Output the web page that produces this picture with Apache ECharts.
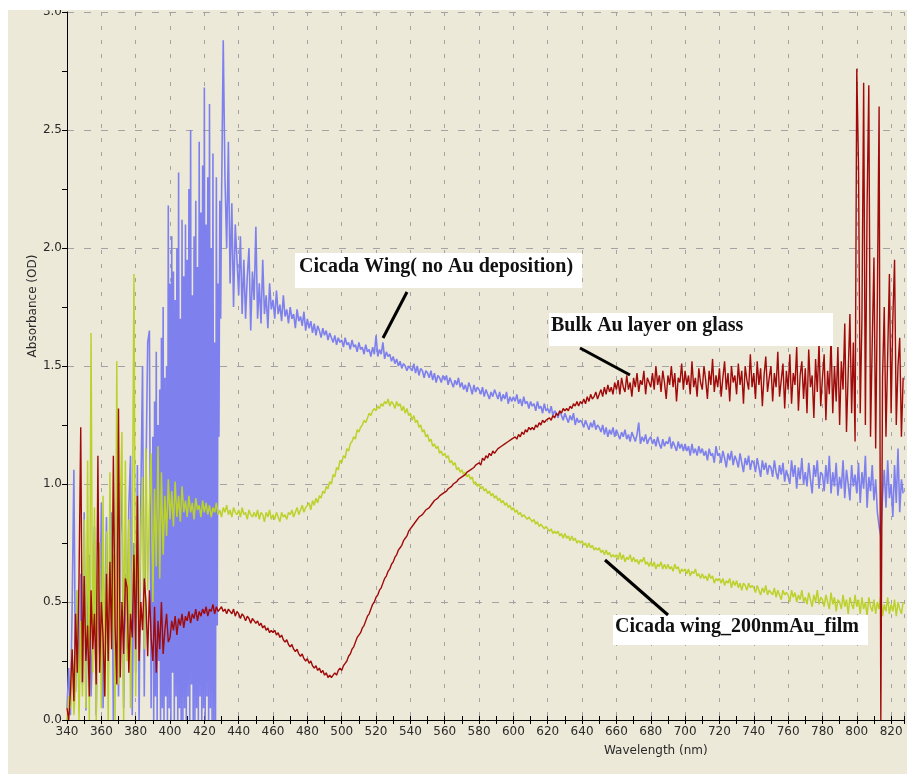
<!DOCTYPE html>
<html>
<head>
<meta charset="utf-8">
<title>Absorbance spectra</title>
<script src="https://cdn.jsdelivr.net/npm/echarts@6/dist/echarts.min.js"></script>
<style>
  html, body { margin: 0; padding: 0; background: #ffffff; }
  #chart { width: 907px; height: 774px; }
</style>
</head>
<body>
<div id="chart"></div>
<script>
// Readings are stored as runs of evenly spaced wavelengths (nm).
// Each run: start wavelength, step, and the absorbance values (OD).

// Cicada wing without gold deposition
const cicadaWingStart = 340, cicadaWingStep = 1;
const cicadaWingUV = [
  0.05, 0.22, 0.02, 0.48, 1.06, 0.12, 0.55, 0.08, 0.62, 0.15,
  0.88, 0.04, 0.45, 0.70, 0.10, 0.35, 0.82, 0.02, 0.60, 0.28,
  0.92, 0.05, 0.40, 0.86, 0.18, 0.70, 0.88, 0.00, 0.55, 0.95,
  0.10, 0.78, 1.00, 0.05, 0.62, 0.30, 0.90, 1.12, 0.02, 0.75,
  0.20, 1.08, 0.00, 0.95, 1.50, 0.10, 1.05, 1.60, 1.65, 0.05
];
// 390 – 429.5 nm, half-nanometre readings
const cicadaWingDenseStart = 390, cicadaWingDenseStep = 0.5;
const cicadaWingDense = [
  1.20, 0.00, 1.35, 0.10, 1.56, 0.00, 1.25, 0.25,
  1.40, 0.00, 1.62, 0.05, 1.75, 0.00, 1.45, 0.10,
  1.50, 0.00, 2.18, 0.05, 1.85, 0.00, 2.05, 0.20,
  1.90, 0.00, 1.78, 0.10, 2.00, 0.00, 2.32, 0.05,
  1.70, 0.00, 2.12, 0.00, 1.88, 0.05, 2.10, 0.00,
  1.95, 0.10, 2.25, 0.00, 2.50, 0.15, 1.80, 0.00,
  2.05, 0.00, 2.20, 0.05, 1.92, 0.00, 2.45, 0.10,
  2.15, 0.00, 2.35, 0.05, 2.68, 0.00, 2.10, 0.10,
  2.30, 0.00, 2.61, 0.05, 2.00, 0.00, 2.40, 0.00,
  1.60, 0.00, 2.30, 0.40, 1.85, 1.20, 2.20, 1.70
];
// 430 – 827 nm
const cicadaWingVisStart = 430, cicadaWingVisStep = 1;
const cicadaWingVis = [
  2.20, 2.88, 2.30, 2.00, 2.45, 1.85, 2.19, 1.75, 2.10, 1.95,
  1.80, 2.05, 1.72, 1.95, 1.70, 1.88, 2.00, 1.65, 1.90, 1.78,
  2.09, 1.70, 1.85, 1.68, 1.95, 1.72, 1.80, 1.66, 1.85, 1.74,
  1.78, 1.70, 1.82, 1.72, 1.76, 1.69, 1.80, 1.71, 1.74, 1.68,
  1.75, 1.70, 1.72, 1.66, 1.74, 1.69, 1.71, 1.67, 1.73, 1.65,
  1.70, 1.66, 1.69, 1.64, 1.68, 1.63, 1.67, 1.65, 1.62, 1.66,
  1.63, 1.65, 1.61, 1.64, 1.62, 1.60, 1.63, 1.59, 1.62, 1.60,
  1.61, 1.58, 1.62, 1.59, 1.60, 1.57, 1.61, 1.58, 1.59, 1.56,
  1.60, 1.57, 1.58, 1.55, 1.59, 1.56, 1.57, 1.54, 1.58, 1.55,
  1.63, 1.54, 1.57, 1.55, 1.60, 1.53, 1.56, 1.54, 1.55, 1.52,
  1.54, 1.51, 1.53, 1.50, 1.52, 1.49, 1.51, 1.50, 1.48, 1.50,
  1.50, 1.48, 1.51, 1.47, 1.50, 1.46, 1.49, 1.48, 1.45, 1.48,
  1.47, 1.45, 1.48, 1.44, 1.47, 1.43, 1.46, 1.45, 1.43, 1.46,
  1.44, 1.46, 1.42, 1.45, 1.43, 1.41, 1.44, 1.42, 1.45, 1.41,
  1.43, 1.40, 1.42, 1.39, 1.43, 1.41, 1.38, 1.42, 1.39, 1.41,
  1.40, 1.38, 1.41, 1.37, 1.40, 1.38, 1.36, 1.39, 1.37, 1.40,
  1.38, 1.36, 1.39, 1.35, 1.38, 1.36, 1.39, 1.34, 1.37, 1.35,
  1.37, 1.35, 1.38, 1.34, 1.36, 1.33, 1.37, 1.34, 1.35, 1.32,
  1.35, 1.33, 1.34, 1.31, 1.35, 1.32, 1.33, 1.30, 1.34, 1.31,
  1.32, 1.30, 1.33, 1.29, 1.31, 1.30, 1.28, 1.31, 1.29, 1.27,
  1.30, 1.28, 1.26, 1.29, 1.27, 1.30, 1.25, 1.28, 1.26, 1.27,
  1.26, 1.24, 1.27, 1.25, 1.23, 1.26, 1.24, 1.27, 1.23, 1.25,
  1.24, 1.22, 1.25, 1.21, 1.24, 1.20, 1.23, 1.21, 1.24, 1.20,
  1.23, 1.21, 1.19, 1.22, 1.20, 1.23, 1.19, 1.21, 1.18, 1.22,
  1.20, 1.18, 1.21, 1.26, 1.17, 1.20, 1.18, 1.21, 1.17, 1.19,
  1.20, 1.17, 1.19, 1.16, 1.20, 1.17, 1.15, 1.19, 1.16, 1.18,
  1.17, 1.20, 1.15, 1.18, 1.16, 1.14, 1.18, 1.15, 1.17, 1.14,
  1.17, 1.14, 1.16, 1.12, 1.17, 1.13, 1.15, 1.12, 1.16, 1.13,
  1.15, 1.12, 1.14, 1.10, 1.15, 1.12, 1.13, 1.09, 1.16, 1.12,
  1.13, 1.09, 1.14, 1.11, 1.07, 1.13, 1.10, 1.14, 1.08, 1.12,
  1.10, 1.07, 1.13, 1.09, 1.05, 1.11, 1.08, 1.12, 1.06, 1.10,
  1.09, 1.05, 1.11, 1.07, 1.03, 1.10, 1.06, 1.09, 1.04, 1.08,
  1.07, 1.03, 1.10, 1.05, 1.02, 1.08, 1.04, 1.09, 1.01, 1.06,
  1.06, 1.00, 1.10, 1.03, 1.08, 0.98, 1.07, 1.02, 1.11, 1.00,
  1.05, 0.99, 1.09, 1.02, 0.96, 1.08, 1.03, 1.10, 0.98, 1.05,
  1.04, 0.97, 1.08, 1.00, 1.12, 0.96, 1.05, 0.99, 1.09, 0.95,
  1.03, 0.98, 1.10, 0.94, 1.06, 1.00, 0.93, 1.08, 0.99, 1.04,
  0.96, 1.09, 0.92, 1.05, 0.98, 1.12, 0.90, 1.03, 0.97, 1.08,
  0.93, 1.02, 0.88, 0.82, 0.78, 0.95, 1.06, 0.90, 1.10, 0.94,
  1.00, 0.86, 1.08, 0.92, 1.15, 0.88, 1.02, 0.96
];

// Cicada wing with a 200 nm gold film, 340 – 827 nm
const cicadaWingAuStart = 340, cicadaWingAuStep = 1;
const cicadaWingAuFilm = [
  0.00, 0.10, 0.05, 0.30, 0.02, 0.15, 0.55, 0.00, 0.42, 0.10,
  0.85, 0.05, 1.10, 0.00, 1.64, 0.20, 0.90, 0.00, 0.60, 0.75,
  0.05, 0.95, 0.10, 0.80, 0.00, 1.05, 0.30, 0.70, 0.00, 1.52,
  0.15, 0.90, 1.22, 0.00, 1.10, 0.25, 0.85, 0.05, 0.70, 1.89,
  0.10, 0.95, 0.40, 0.80, 1.03, 0.30, 1.15, 0.55, 0.90, 1.13,
  0.50, 0.98, 0.65, 1.16, 0.60, 1.05, 0.70, 0.95, 0.78, 1.02,
  0.85, 0.97, 0.82, 1.01, 0.86, 0.95, 0.84, 0.99, 0.88, 0.93,
  0.86, 0.95, 0.88, 0.92, 0.85, 0.94, 0.89, 0.91, 0.86, 0.93,
  0.88, 0.92, 0.87, 0.91, 0.86, 0.90, 0.88, 0.92, 0.87, 0.89,
  0.86, 0.90, 0.88, 0.91, 0.87, 0.89, 0.86, 0.90, 0.88, 0.87,
  0.89, 0.86, 0.90, 0.87, 0.88, 0.85, 0.89, 0.87, 0.86, 0.88,
  0.86, 0.89, 0.85, 0.88, 0.87, 0.84, 0.88, 0.86, 0.89, 0.85,
  0.87, 0.85, 0.88, 0.86, 0.84, 0.88, 0.86, 0.87, 0.85, 0.88,
  0.87, 0.89, 0.86, 0.88, 0.90, 0.87, 0.89, 0.91, 0.88, 0.90,
  0.90, 0.92, 0.89, 0.93, 0.91, 0.94, 0.92, 0.95, 0.94, 0.97,
  0.96, 0.99, 0.98, 1.01, 1.00, 1.04, 1.03, 1.07, 1.06, 1.10,
  1.09, 1.12, 1.11, 1.15, 1.14, 1.17, 1.18, 1.20, 1.19, 1.23,
  1.22, 1.24, 1.25, 1.27, 1.26, 1.28, 1.30, 1.29, 1.31, 1.32,
  1.31, 1.33, 1.32, 1.34, 1.33, 1.35, 1.34, 1.36, 1.33, 1.35,
  1.34, 1.32, 1.35, 1.33, 1.34, 1.31, 1.33, 1.30, 1.32, 1.29,
  1.30, 1.27, 1.29, 1.26, 1.27, 1.24, 1.25, 1.22, 1.23, 1.20,
  1.21, 1.18, 1.19, 1.16, 1.17, 1.15, 1.16, 1.13, 1.14, 1.12,
  1.13, 1.11, 1.12, 1.09, 1.10, 1.08, 1.09, 1.06, 1.07, 1.05,
  1.06, 1.04, 1.05, 1.03, 1.04, 1.02, 1.03, 1.00, 1.01, 0.99,
  1.00, 0.98, 0.99, 0.97, 0.98, 0.96, 0.97, 0.95, 0.96, 0.94,
  0.95, 0.93, 0.94, 0.92, 0.93, 0.91, 0.92, 0.90, 0.91, 0.89,
  0.90, 0.88, 0.89, 0.87, 0.88, 0.86, 0.87, 0.86, 0.85, 0.86,
  0.85, 0.84, 0.85, 0.83, 0.84, 0.82, 0.83, 0.82, 0.81, 0.82,
  0.81, 0.80, 0.81, 0.79, 0.80, 0.79, 0.80, 0.78, 0.79, 0.77,
  0.79, 0.77, 0.78, 0.76, 0.78, 0.76, 0.77, 0.75, 0.76, 0.75,
  0.76, 0.74, 0.75, 0.73, 0.75, 0.73, 0.74, 0.72, 0.73, 0.72,
  0.73, 0.71, 0.72, 0.70, 0.72, 0.70, 0.71, 0.69, 0.70, 0.69,
  0.70, 0.68, 0.71, 0.68, 0.70, 0.67, 0.69, 0.68, 0.70, 0.67,
  0.69, 0.67, 0.68, 0.66, 0.68, 0.67, 0.69, 0.66, 0.67, 0.65,
  0.67, 0.65, 0.67, 0.64, 0.66, 0.65, 0.67, 0.64, 0.66, 0.64,
  0.66, 0.64, 0.65, 0.63, 0.66, 0.64, 0.65, 0.62, 0.64, 0.63,
  0.64, 0.62, 0.64, 0.61, 0.63, 0.62, 0.64, 0.61, 0.62, 0.60,
  0.62, 0.60, 0.61, 0.59, 0.62, 0.60, 0.61, 0.58, 0.60, 0.59,
  0.60, 0.58, 0.60, 0.57, 0.59, 0.58, 0.60, 0.56, 0.59, 0.57,
  0.59, 0.56, 0.58, 0.55, 0.58, 0.57, 0.55, 0.58, 0.56, 0.57,
  0.56, 0.54, 0.57, 0.55, 0.53, 0.56, 0.54, 0.57, 0.53, 0.55,
  0.55, 0.53, 0.56, 0.52, 0.55, 0.53, 0.51, 0.55, 0.53, 0.54,
  0.53, 0.50, 0.55, 0.52, 0.54, 0.50, 0.53, 0.51, 0.55, 0.50,
  0.52, 0.49, 0.54, 0.51, 0.48, 0.53, 0.50, 0.55, 0.49, 0.52,
  0.51, 0.48, 0.53, 0.50, 0.47, 0.54, 0.49, 0.52, 0.46, 0.51,
  0.50, 0.47, 0.53, 0.48, 0.51, 0.45, 0.52, 0.49, 0.47, 0.53,
  0.48, 0.51, 0.45, 0.52, 0.47, 0.50, 0.44, 0.52, 0.48, 0.46,
  0.51, 0.45, 0.50, 0.47, 0.53, 0.44, 0.49, 0.46, 0.52, 0.45,
  0.49, 0.46, 0.51, 0.44, 0.50, 0.47, 0.45, 0.50
];

// Bulk gold layer on glass, 340 – 827 nm
const bulkAuStart = 340, bulkAuStep = 1;
const bulkAuOnGlass = [
  0.05, 0.00, 0.12, 0.30, 0.08, 0.45, 0.20, 0.60, 1.24, 0.16,
  0.61, 0.25, 0.40, 0.10, 0.55, 0.30, 0.45, 0.15, 1.12, 0.20,
  0.50, 0.35, 0.10, 0.62, 0.25, 0.67, 0.30, 1.12, 0.40, 0.15,
  1.32, 0.18, 0.50, 0.28, 0.60, 0.56, 0.20, 0.45, 0.35, 0.70,
  0.30, 0.95, 0.25, 0.50, 0.38, 0.60, 0.50, 0.27, 0.55, 0.35,
  0.25, 0.48, 0.20, 0.42, 0.30, 0.50, 0.28, 0.38, 0.45, 0.33,
  0.35, 0.42, 0.38, 0.44, 0.36, 0.43, 0.40, 0.45, 0.39, 0.44,
  0.42, 0.46, 0.41, 0.45, 0.43, 0.47, 0.42, 0.46, 0.44, 0.47,
  0.45, 0.48, 0.44, 0.47, 0.46, 0.49, 0.45, 0.48, 0.46, 0.47,
  0.48, 0.46, 0.47, 0.45, 0.47, 0.46, 0.45, 0.47, 0.44, 0.46,
  0.45, 0.43, 0.45, 0.44, 0.42, 0.44, 0.43, 0.41, 0.43, 0.42,
  0.41, 0.42, 0.40, 0.41, 0.39, 0.40, 0.38, 0.39, 0.37, 0.38,
  0.37, 0.38, 0.36, 0.37, 0.35, 0.36, 0.34, 0.33, 0.34, 0.32,
  0.31, 0.32, 0.30, 0.29, 0.30, 0.28, 0.27, 0.28, 0.26, 0.25,
  0.26, 0.24, 0.25, 0.23, 0.22, 0.23, 0.21, 0.22, 0.20, 0.21,
  0.19, 0.20, 0.18, 0.19, 0.18, 0.19, 0.20, 0.19, 0.21, 0.22,
  0.21, 0.23, 0.24, 0.25, 0.27, 0.28, 0.30, 0.31, 0.33, 0.35,
  0.36, 0.37, 0.39, 0.40, 0.42, 0.44, 0.45, 0.47, 0.49, 0.50,
  0.52, 0.53, 0.55, 0.56, 0.58, 0.60, 0.61, 0.63, 0.64, 0.66,
  0.67, 0.69, 0.70, 0.72, 0.73, 0.74, 0.76, 0.77, 0.78, 0.80,
  0.80, 0.82, 0.82, 0.84, 0.84, 0.86, 0.86, 0.87, 0.88, 0.89,
  0.89, 0.90, 0.91, 0.91, 0.93, 0.93, 0.94, 0.95, 0.95, 0.96,
  0.96, 0.97, 0.98, 0.98, 0.99, 1.00, 1.00, 1.01, 1.02, 1.02,
  1.03, 1.03, 1.04, 1.05, 1.05, 1.06, 1.06, 1.07, 1.08, 1.08,
  1.09, 1.08, 1.11, 1.10, 1.12, 1.11, 1.13, 1.12, 1.14, 1.13,
  1.14, 1.15, 1.15, 1.16, 1.16, 1.17, 1.17, 1.18, 1.18, 1.19,
  1.19, 1.20, 1.19, 1.21, 1.20, 1.22, 1.21, 1.23, 1.22, 1.24,
  1.23, 1.24, 1.23, 1.25, 1.24, 1.26, 1.25, 1.27, 1.26, 1.27,
  1.27, 1.28, 1.27, 1.29, 1.28, 1.30, 1.29, 1.31, 1.30, 1.32,
  1.31, 1.32, 1.31, 1.33, 1.32, 1.34, 1.33, 1.35, 1.33, 1.35,
  1.34, 1.36, 1.34, 1.37, 1.35, 1.38, 1.36, 1.37, 1.39, 1.36,
  1.38, 1.40, 1.37, 1.41, 1.38, 1.42, 1.39, 1.41, 1.38, 1.43,
  1.40, 1.44, 1.38, 1.45, 1.41, 1.39, 1.46, 1.40, 1.43, 1.37,
  1.45, 1.41, 1.47, 1.39, 1.44, 1.42, 1.48, 1.38, 1.45, 1.43,
  1.41, 1.47, 1.40, 1.50, 1.42, 1.46, 1.39, 1.48, 1.43, 1.36,
  1.46, 1.42, 1.50, 1.41, 1.47, 1.35, 1.45, 1.43, 1.51, 1.40,
  1.48, 1.42, 1.46, 1.38, 1.52, 1.41, 1.45, 1.37, 1.49, 1.43,
  1.40, 1.50, 1.44, 1.36, 1.48, 1.42, 1.53, 1.39, 1.46, 1.41,
  1.49, 1.37, 1.45, 1.52, 1.40, 1.47, 1.35, 1.50, 1.43, 1.46,
  1.38, 1.51, 1.42, 1.48, 1.34, 1.50, 1.44, 1.40, 1.55, 1.41,
  1.47, 1.36, 1.52, 1.42, 1.49, 1.33, 1.46, 1.54, 1.39, 1.45,
  1.50, 1.35, 1.47, 1.41, 1.56, 1.37, 1.44, 1.51, 1.32, 1.48,
  1.40, 1.55, 1.34, 1.47, 1.42, 1.58, 1.31, 1.46, 1.52, 1.36,
  1.49, 1.30, 1.57, 1.41, 1.46, 1.28, 1.53, 1.39, 1.60, 1.33,
  1.45, 1.55, 1.27, 1.48, 1.38, 1.62, 1.30, 1.50, 1.35, 1.58,
  1.25, 1.52, 1.40, 1.68, 1.22, 1.47, 1.72, 1.30, 1.60, 1.18,
  2.76, 2.35, 1.30, 1.70, 2.70, 1.25, 2.18, 2.69, 1.20, 1.60,
  1.96, 1.15, 1.80, 2.60, 0.00, 1.45, 1.75, 1.20, 1.55, 1.89,
  1.30, 1.70, 1.95, 1.25, 1.50, 1.62, 1.20, 1.45
];

const AXIS_X_MIN = 340, AXIS_X_MAX = 827.5, AXIS_X_STEP = 20;
const AXIS_Y_MIN = 0, AXIS_Y_MAX = 3, AXIS_Y_STEP = 0.5;

// Turn a run of evenly spaced readings into [wavelength, absorbance] pairs.
function run(start, step, values) {
  return values.map((v, i) => [start + i * step, v]);
}

const chart = echarts.init(document.getElementById('chart'), null, { renderer: 'canvas' });

const labelFont = { fontFamily: 'DejaVu Sans', fontSize: 12, color: '#2a2a2a' };
const gridColor = '#a3a3a3';

const xAxisCommon = {
  type: 'value',
  gridIndex: 0,
  position: 'bottom',
  min: AXIS_X_MIN,
  max: AXIS_X_MAX,
  interval: AXIS_X_STEP
};

const option = {
  animation: false,
  backgroundColor: '#ece9d8',
  grid: { left: 67, right: 0, top: 12, bottom: 54, containLabel: false },
  xAxis: [
    Object.assign({}, xAxisCommon, {
      axisLine: { show: true, lineStyle: { color: '#000', width: 1 } },
      axisTick: { show: true, inside: false, length: 4, lineStyle: { color: '#000' } },
      minorTick: { show: true, splitNumber: 2, length: 4, lineStyle: { color: '#000' } },
      axisLabel: {
        margin: 6,
        ...labelFont,
        formatter: v => (v % AXIS_X_STEP === 0 ? String(v) : '')
      },
      splitLine: { show: true, lineStyle: { color: gridColor, type: [4, 10], width: 1 } }
    }),
    // second copy of the wavelength scale: tick marks above the baseline
    Object.assign({}, xAxisCommon, {
      axisLine: { show: false },
      axisTick: { show: true, inside: true, length: 4, lineStyle: { color: '#000' } },
      minorTick: { show: true, splitNumber: 2, length: 4, lineStyle: { color: '#000' } },
      axisLabel: { show: false },
      splitLine: { show: false }
    })
  ],
  yAxis: {
    type: 'value',
    min: AXIS_Y_MIN,
    max: AXIS_Y_MAX,
    interval: AXIS_Y_STEP,
    axisLine: { show: true, lineStyle: { color: '#000', width: 1 } },
    axisTick: { show: true, inside: false, length: 5, lineStyle: { color: '#000' } },
    minorTick: { show: true, splitNumber: 2, length: 5, lineStyle: { color: '#000' } },
    axisLabel: { margin: 5, ...labelFont, formatter: v => v.toFixed(1) },
    splitLine: { show: true, lineStyle: { color: gridColor, type: [7, 10], width: 1 } }
  },
  series: [
    {
      name: 'Cicada Wing( no Au deposition)',
      type: 'line',
      data: run(cicadaWingStart, cicadaWingStep, cicadaWingUV)
        .concat(run(cicadaWingDenseStart, cicadaWingDenseStep, cicadaWingDense))
        .concat(run(cicadaWingVisStart, cicadaWingVisStep, cicadaWingVis)),
      showSymbol: false,
      clip: true,
      lineStyle: { color: '#7e80ee', width: 1.6 },
      z: 2
    },
    {
      name: 'Cicada wing_200nmAu_film',
      type: 'line',
      data: run(cicadaWingAuStart, cicadaWingAuStep, cicadaWingAuFilm),
      showSymbol: false,
      clip: true,
      lineStyle: { color: '#bcd22c', width: 1.5 },
      z: 3
    },
    {
      name: 'Bulk Au layer on glass',
      type: 'line',
      data: run(bulkAuStart, bulkAuStep, bulkAuOnGlass),
      showSymbol: false,
      clip: true,
      lineStyle: { color: '#a00a0a', width: 1.4 },
      z: 4
    }
  ],
  graphic: [
    // axis titles
    {
      type: 'text', left: 604, top: 745, z: 50,
      style: { text: 'Wavelength (nm)', font: '12px "DejaVu Sans"', fill: '#2a2a2a' }
    },
    {
      type: 'text', x: 33, y: 306, rotation: Math.PI / 2, z: 50,
      style: { text: 'Absorbance (OD)', font: '12px "DejaVu Sans"', fill: '#2a2a2a',
               align: 'center', verticalAlign: 'middle' }
    },
    // callout boxes and pointers
    { type: 'rect', z: 60, shape: { x: 295, y: 253, width: 287, height: 35 }, style: { fill: '#ffffff' } },
    { type: 'text', z: 61, x: 299, y: 267,
      style: { text: 'Cicada Wing( no Au deposition)', font: 'bold 20px "Liberation Serif"', fill: '#111',
               verticalAlign: 'middle' } },
    { type: 'line', z: 61, shape: { x1: 407, y1: 292, x2: 383, y2: 338 }, style: { stroke: '#000', lineWidth: 3 } },

    { type: 'rect', z: 60, shape: { x: 549, y: 313, width: 284, height: 33 }, style: { fill: '#ffffff' } },
    { type: 'text', z: 61, x: 551, y: 326,
      style: { text: 'Bulk Au layer on glass', font: 'bold 20px "Liberation Serif"', fill: '#111',
               verticalAlign: 'middle' } },
    { type: 'line', z: 61, shape: { x1: 580, y1: 348, x2: 630, y2: 375 }, style: { stroke: '#000', lineWidth: 3 } },

    { type: 'rect', z: 60, shape: { x: 613, y: 615, width: 255, height: 30 }, style: { fill: '#ffffff' } },
    { type: 'text', z: 61, x: 615, y: 627,
      style: { text: 'Cicada wing_200nmAu_film', font: 'bold 20px "Liberation Serif"', fill: '#111',
               verticalAlign: 'middle' } },
    { type: 'line', z: 61, shape: { x1: 605, y1: 560, x2: 668, y2: 615 }, style: { stroke: '#000', lineWidth: 3 } },

    // page margin strips at the top and left edge
    { type: 'rect', z: 100, shape: { x: 0, y: 0, width: 907, height: 10 }, style: { fill: '#ffffff' } },
    { type: 'rect', z: 100, shape: { x: 0, y: 0, width: 8, height: 774 }, style: { fill: '#ffffff' } }
  ]
};

chart.setOption(option);
</script>
</body>
</html>
